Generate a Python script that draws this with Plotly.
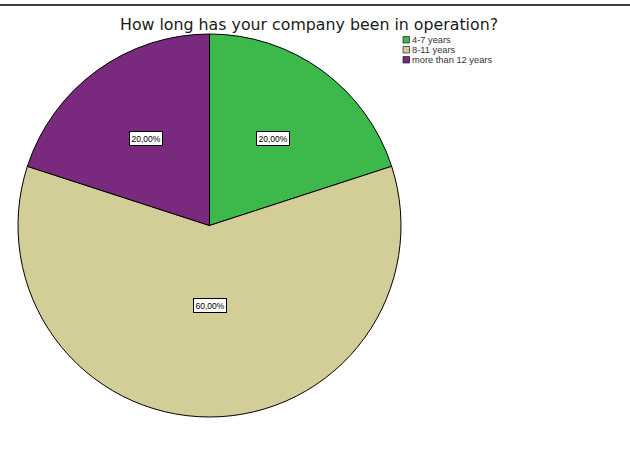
import math
import plotly.graph_objects as go

# Survey answers: share of respondents per company age bracket
categories = ["4-7 years", "8-11 years", "more than 12 years"]
percentages = [20.0, 60.0, 20.0]
slice_colors = ["#3db84b", "#d3ce97", "#7a2a7e"]
value_labels = ["20,00%", "60,00%", "20,00%"]

title_text = "How long has your company been in operation?"

# Canvas and pie geometry (pixels)
W, H = 630, 455
CX, CY, R = 209.5, 225.5, 191.5


def to_paper(px, py):
    return px / W, 1 - py / H


fig = go.Figure()

fig.add_trace(go.Pie(
    labels=categories,
    values=percentages,
    marker=dict(colors=slice_colors, line=dict(color="black", width=1)),
    sort=False,
    direction="clockwise",
    rotation=0,
    textinfo="none",
    hoverinfo="label+percent",
    showlegend=False,
    domain=dict(x=[(CX - R) / W, (CX + R) / W],
                y=[(H - CY - R) / H, (H - CY + R) / H]),
))

# Boxed value labels: placed midway between the slice centroid and half radius
annotations = []
total = sum(percentages)
cum = 0.0
for val, txt in zip(percentages, value_labels):
    half = val / total * math.pi
    mid = (cum + val / 2) / total * 2 * math.pi
    cum += val
    centroid = 2 / 3 * math.sin(half) / half
    frac = (centroid + 0.5) / 2
    px = CX + R * frac * math.sin(mid)
    py = CY - R * frac * math.cos(mid)
    x, y = to_paper(px, py)
    annotations.append(dict(
        x=x, y=y, xref="paper", yref="paper", text=txt, showarrow=False,
        font=dict(family="Liberation Sans, Arial", size=8.5, color="black"),
        bgcolor="white", bordercolor="black", borderwidth=1, borderpad=1.5,
        xanchor="center", yanchor="middle",
    ))

# Title
tx, ty = to_paper(309, 24)
annotations.append(dict(
    x=tx, y=ty, xref="paper", yref="paper", text=title_text, showarrow=False,
    font=dict(family="DejaVu Sans, Arial", size=15.8, color="#1a1a1a"),
    xanchor="center", yanchor="middle",
))

# Legend: colour swatches with category names
shapes = []
LEG_X, LEG_Y, LEG_STEP, SW = 403, 36.5, 10, 6.5
for i, (cat, col) in enumerate(zip(categories, slice_colors)):
    top = LEG_Y + i * LEG_STEP
    x0, y1 = to_paper(LEG_X, top)
    x1, y0 = to_paper(LEG_X + SW, top + SW)
    shapes.append(dict(type="rect", xref="paper", yref="paper",
                       x0=x0, x1=x1, y0=y0, y1=y1,
                       fillcolor=col, line=dict(color="black", width=0.6)))
    lx, ly = to_paper(LEG_X + SW + 0.5, top + SW / 2)
    annotations.append(dict(
        x=lx, y=ly, xref="paper", yref="paper", text=cat, showarrow=False,
        font=dict(family="Liberation Sans, Arial", size=9.3, color="#333333"),
        xanchor="left", yanchor="middle",
    ))

# Rule across the top of the frame
ly0 = to_paper(0, 5)[1]
shapes.append(dict(type="line", xref="paper", yref="paper",
                   x0=0, x1=1, y0=ly0, y1=ly0,
                   line=dict(color="black", width=1.5)))

fig.update_layout(
    width=W, height=H,
    margin=dict(l=0, r=0, t=0, b=0),
    paper_bgcolor="white", plot_bgcolor="white",
    annotations=annotations,
    shapes=shapes,
)

fig.write_html("out.html")
